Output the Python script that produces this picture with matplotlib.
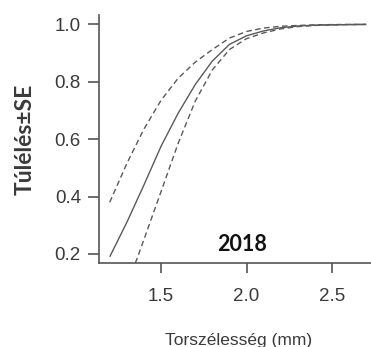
import matplotlib
matplotlib.use("Agg")
import matplotlib.pyplot as plt

# Data
x_fit = [1.2, 1.3, 1.4, 1.5, 1.6, 1.7, 1.8, 1.9, 2.0, 2.1, 2.2, 2.3, 2.4, 2.5, 2.6, 2.7]
survival = [0.19, 0.31, 0.44, 0.575, 0.69, 0.79, 0.872, 0.93, 0.96, 0.977, 0.988, 0.994, 0.997, 0.998, 0.999, 0.9995]
upper_se = [0.38, 0.515, 0.635, 0.735, 0.812, 0.868, 0.912, 0.952, 0.975, 0.987, 0.993, 0.996, 0.998, 0.999, 0.9995, 0.9998]
x_low = [1.35, 1.4, 1.5, 1.6, 1.7, 1.8, 1.9, 2.0, 2.1, 2.2, 2.3, 2.4, 2.5, 2.6, 2.7]
lower_se = [0.168, 0.25, 0.417, 0.585, 0.732, 0.841, 0.912, 0.95, 0.97, 0.984, 0.992, 0.996, 0.998, 0.999, 0.9995]

x_ticks = [1.5, 2.0, 2.5]
x_ticklabels = ["1.5", "2.0", "2.5"]
y_ticks = [0.2, 0.4, 0.6, 0.8, 1.0]
y_ticklabels = ["0.2", "0.4", "0.6", "0.8", "1.0"]
year_label = "2018"
x_title = "Torszélesség (mm)"
y_title = "Túlélés±SE"

W, H = 371, 347
fig = plt.figure(figsize=(W / 100, H / 100), dpi=100)
ax = fig.add_axes([99 / W, 1 - 263 / H, (W - 99) / W, (263 - 15) / H])

line_col = "#5a5a5a"
ax.plot(x_fit, survival, color=line_col, lw=1.0, solid_capstyle="butt")
ax.plot(x_fit, upper_se, color=line_col, lw=1.0, dashes=(4, 2.5))
ax.plot(x_low, lower_se, color=line_col, lw=1.0, dashes=(4, 2.5))

ax.set_xlim(1.1374, 2.728)
ax.set_ylim(0.1686, 1.0324)

ax.spines["top"].set_visible(False)
ax.spines["right"].set_visible(False)
for s in ("left", "bottom"):
    ax.spines[s].set_color("#555555")
    ax.spines[s].set_linewidth(1.2)

tick_font = dict(family=["Liberation Sans", "DejaVu Sans"], size=13.5, color="#3a3a3a")
ax.set_xticks(x_ticks)
ax.set_xticklabels(x_ticklabels, **tick_font)
ax.set_yticks(y_ticks)
ax.set_yticklabels(y_ticklabels, **tick_font)
ax.tick_params(axis="x", length=7, width=1.2, color="#555555", pad=11)
ax.tick_params(axis="y", length=8, width=1.2, color="#555555", pad=5)

ax.text((242 - 99) / (W - 99), (263 - 244.5) / (263 - 15), year_label,
        transform=ax.transAxes, ha="center", va="center",
        fontsize=15.5, fontweight="bold", family=["Lato", "DejaVu Sans"], color="#111111")

fig.text(25 / W, 1 - 139 / H, y_title, rotation=90, ha="center", va="center",
         fontsize=16.5, fontweight="bold", family=["Lato", "DejaVu Sans"], color="#3a3a3a")
fig.text(239 / W, 1 - 345 / H, x_title, ha="center", va="baseline",
         fontsize=12.5, family=["Liberation Sans", "DejaVu Sans"], color="#3a3a3a")

fig.savefig("out.png", dpi=100)
